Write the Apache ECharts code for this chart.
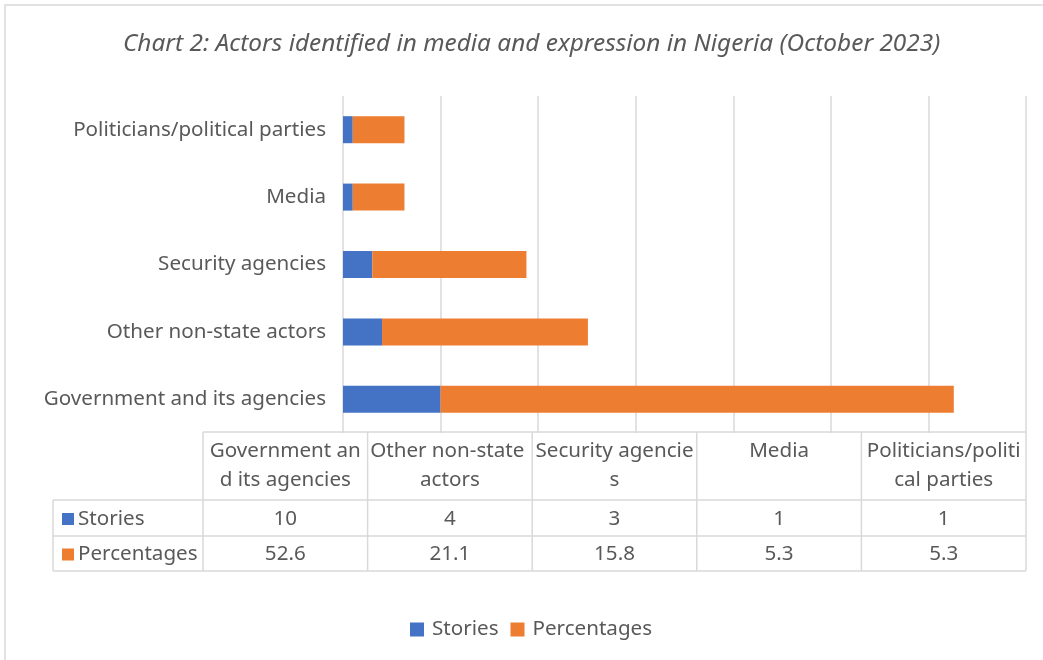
<!DOCTYPE html>
<html lang="en">

<head>
    <meta charset="UTF-8" />
    <title>Actors identified in media and expression in Nigeria</title>
    <script src="https://cdn.jsdelivr.net/npm/echarts@6/dist/echarts.min.js"></script>
    <style>
        html, body { margin: 0; padding: 0; background: #fff; }
        #chart { width: 1043px; height: 660px; }
    </style>
</head>

<body>
    <div id="chart"></div>
    <script>
        // data (bottom to top on the chart, left to right in the table)
        var categories = ["Government and its agencies", "Other non-state actors", "Security agencies", "Media", "Politicians/political parties"];
        var stories = [10, 4, 3, 1, 1];
        var percentages = [52.6, 21.1, 15.8, 5.3, 5.3];
        var seriesNames = ["Stories", "Percentages"];
        var colors = ["#4472C4", "#ED7D31"];

        var FONT = "Noto Sans";
        var FS = 20.6;
        var TXT = "#595959";
        var LINE = "#d9d9d9";

        // data table under the plot
        var tblLeft = 53, tblHead = 203, tblRight = 1026;
        var rowY = [432, 500, 536, 571];
        var colW = (tblRight - tblHead) / categories.length;

        function hline(x1, x2, y) {
            return { type: "line", shape: { x1: x1, y1: y, x2: x2, y2: y }, style: { stroke: LINE, lineWidth: 1.5 }, silent: true };
        }
        function vline(x, y1, y2) {
            return { type: "line", shape: { x1: x, y1: y1, x2: x, y2: y2 }, style: { stroke: LINE, lineWidth: 1.5 }, silent: true };
        }

        function buildTable() {
            var g = [];
            var font = FS + "px '" + FONT + "'";
            // outer frame of the whole chart
            g.push({ type: "rect", shape: { x: 5, y: 5, width: 1060, height: 700 }, style: { fill: "none", stroke: "#d9d9d9", lineWidth: 1.5 }, silent: true });

            g.push(hline(tblHead, tblRight, rowY[0]));
            g.push(hline(tblLeft, tblRight, rowY[1]));
            g.push(hline(tblLeft, tblRight, rowY[2]));
            g.push(hline(tblLeft, tblRight, rowY[3]));
            g.push(vline(tblLeft, rowY[1], rowY[3]));
            for (var i = 0; i <= categories.length; i++) {
                g.push(vline(tblHead + i * colW, rowY[0], rowY[3]));
            }

            var rows = [stories, percentages];
            for (var c = 0; c < categories.length; c++) {
                var cx = tblHead + (c + 0.5) * colW;
                g.push({
                    type: "text", x: cx, y: rowY[0] + 5,
                    style: {
                        text: categories[c], width: 162, overflow: "breakAll",
                        align: "center", verticalAlign: "top",
                        font: font, lineHeight: 29, fill: TXT
                    }, silent: true
                });
                for (var r = 0; r < rows.length; r++) {
                    g.push({
                        type: "text", x: cx, y: (rowY[r + 1] + rowY[r + 2]) / 2 + 1,
                        style: { text: String(rows[r][c]), align: "center", verticalAlign: "middle", font: font, fill: TXT },
                        silent: true
                    });
                }
            }
            // row headers with legend keys
            for (var s = 0; s < seriesNames.length; s++) {
                var my = (rowY[s + 1] + rowY[s + 2]) / 2 + 1;
                g.push({ type: "rect", shape: { x: 62, y: my - 6, width: 12, height: 12 }, style: { fill: colors[s] }, silent: true });
                g.push({
                    type: "text", x: 78, y: my,
                    style: { text: seriesNames[s], align: "left", verticalAlign: "middle", font: font, fill: TXT },
                    silent: true
                });
            }
            return g;
        }

        var myChart = echarts.init(document.getElementById("chart"));
        var option = {
            animation: false,
            color: colors,
            title: {
                text: "Chart 2: Actors identified in media and expression in Nigeria (October 2023)",
                left: 118,
                top: 27,
                textStyle: { fontFamily: FONT, fontStyle: "italic", fontWeight: "normal", fontSize: 24.4, color: TXT }
            },
            legend: {
                data: seriesNames,
                left: 405,
                top: 614,
                icon: "rect",
                itemWidth: 14,
                itemHeight: 14,
                itemGap: 12,
                textStyle: { fontFamily: FONT, fontSize: FS, color: TXT, padding: [0, 0, 0, 3] }
            },
            grid: { left: 343, right: 17, top: 96, height: 337, containLabel: false },
            xAxis: {
                type: "value",
                min: 0,
                max: 70,
                interval: 10,
                axisLabel: { show: false },
                axisLine: { show: false },
                axisTick: { show: false },
                splitLine: { show: true, lineStyle: { color: LINE, width: 1.5 } }
            },
            yAxis: {
                type: "category",
                data: categories,
                axisLine: { show: false },
                axisTick: { show: false },
                axisLabel: { fontFamily: FONT, fontSize: FS, color: TXT, margin: 17 }
            },
            series: [
                { name: seriesNames[0], type: "bar", stack: "total", data: stories, barWidth: 27 },
                { name: seriesNames[1], type: "bar", stack: "total", data: percentages, barWidth: 27 }
            ],
            graphic: buildTable()
        };
        myChart.setOption(option);
    </script>
</body>

</html>
